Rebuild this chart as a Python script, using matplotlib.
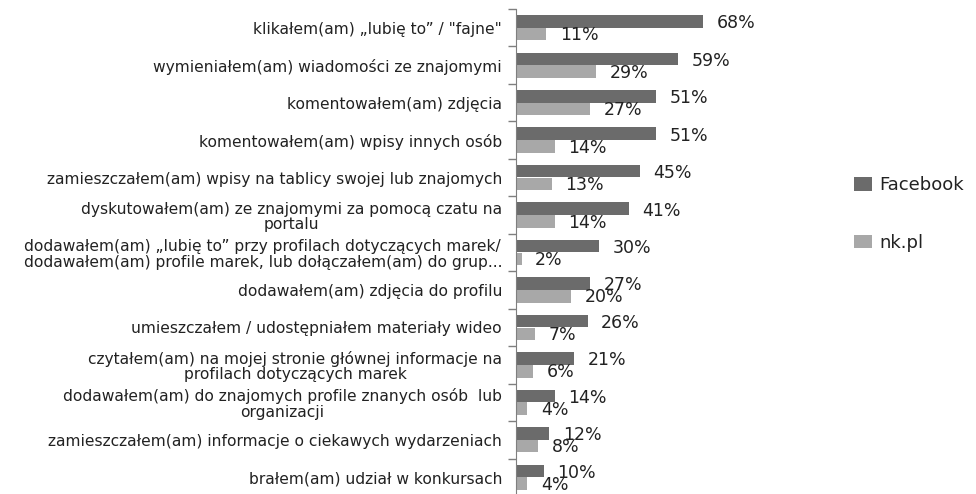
import matplotlib
matplotlib.use("Agg")
import matplotlib.pyplot as plt
from matplotlib.patches import Patch
import numpy as np

categories = [
    "klikałem(am) „lubię to” / \"fajne\"",
    "wymieniałem(am) wiadomości ze znajomymi",
    "komentowałem(am) zdjęcia",
    "komentowałem(am) wpisy innych osób",
    "zamieszczałem(am) wpisy na tablicy swojej lub znajomych",
    "dyskutowałem(am) ze znajomymi za pomocą czatu na\nportalu",
    "dodawałem(am) „lubię to” przy profilach dotyczących marek/\ndodawałem(am) profile marek, lub dołączałem(am) do grup...",
    "dodawałem(am) zdjęcia do profilu",
    "umieszczałem / udostępniałem materiały wideo",
    "czytałem(am) na mojej stronie głównej informacje na\nprofilach dotyczących marek",
    "dodawałem(am) do znajomych profile znanych osób  lub\norganizacji",
    "zamieszczałem(am) informacje o ciekawych wydarzeniach",
    "brałem(am) udział w konkursach",
]
facebook = [68, 59, 51, 51, 45, 41, 30, 27, 26, 21, 14, 12, 10]
nkpl = [11, 29, 27, 14, 13, 14, 2, 20, 7, 6, 4, 8, 4]
series_names = ["Facebook", "nk.pl"]

fb_color = "#6b6b6b"
nk_color = "#a8a8a8"
text_color = "#222222"

fig = plt.figure(figsize=(9.76, 4.94), dpi=100)
ax = fig.add_axes([516 / 976, -2 / 494, 275 / 976, 487 / 494])

y = np.arange(len(categories))
h = 0.335
ax.barh(y - 0.17, facebook, height=h, color=fb_color)
ax.barh(y + 0.17, nkpl, height=h, color=nk_color)

# value labels, nudged a bit below the bar centres like the original
for yi, v in zip(y, facebook):
    ax.text(v + 5, yi - 0.12, f"{v}%", va="center", ha="left",
            fontsize=12.5, color=text_color)
for yi, v in zip(y, nkpl):
    ax.text(v + 5, yi + 0.2, f"{v}%", va="center", ha="left",
            fontsize=12.5, color=text_color)

ax.set_xlim(0, 100)
ax.set_ylim(len(categories) - 0.5, -0.5)
ax.set_yticks(y)
ax.set_yticklabels(categories, fontsize=11.2, color=text_color, ha="right",
                   multialignment="center", linespacing=1.05)
ax.tick_params(axis="y", which="major", length=0, pad=10)
ax.set_yticks(np.arange(-0.5, len(categories), 1), minor=True)
ax.tick_params(axis="y", which="minor", length=6, color="#7f7f7f", width=1)
ax.set_xticks([])
for s in ["top", "right", "bottom"]:
    ax.spines[s].set_visible(False)
ax.spines["left"].set_color("#7f7f7f")

handles = [Patch(facecolor=fb_color), Patch(facecolor=nk_color)]
fig.legend(handles, series_names, loc="upper left",
           bbox_to_anchor=(838 / 976, 1 - 160 / 494), frameon=False,
           fontsize=13, labelcolor=text_color, handlelength=1.0,
           handleheight=0.75, handletextpad=0.4, labelspacing=2.2)

fig.savefig("out.png", dpi=100)
